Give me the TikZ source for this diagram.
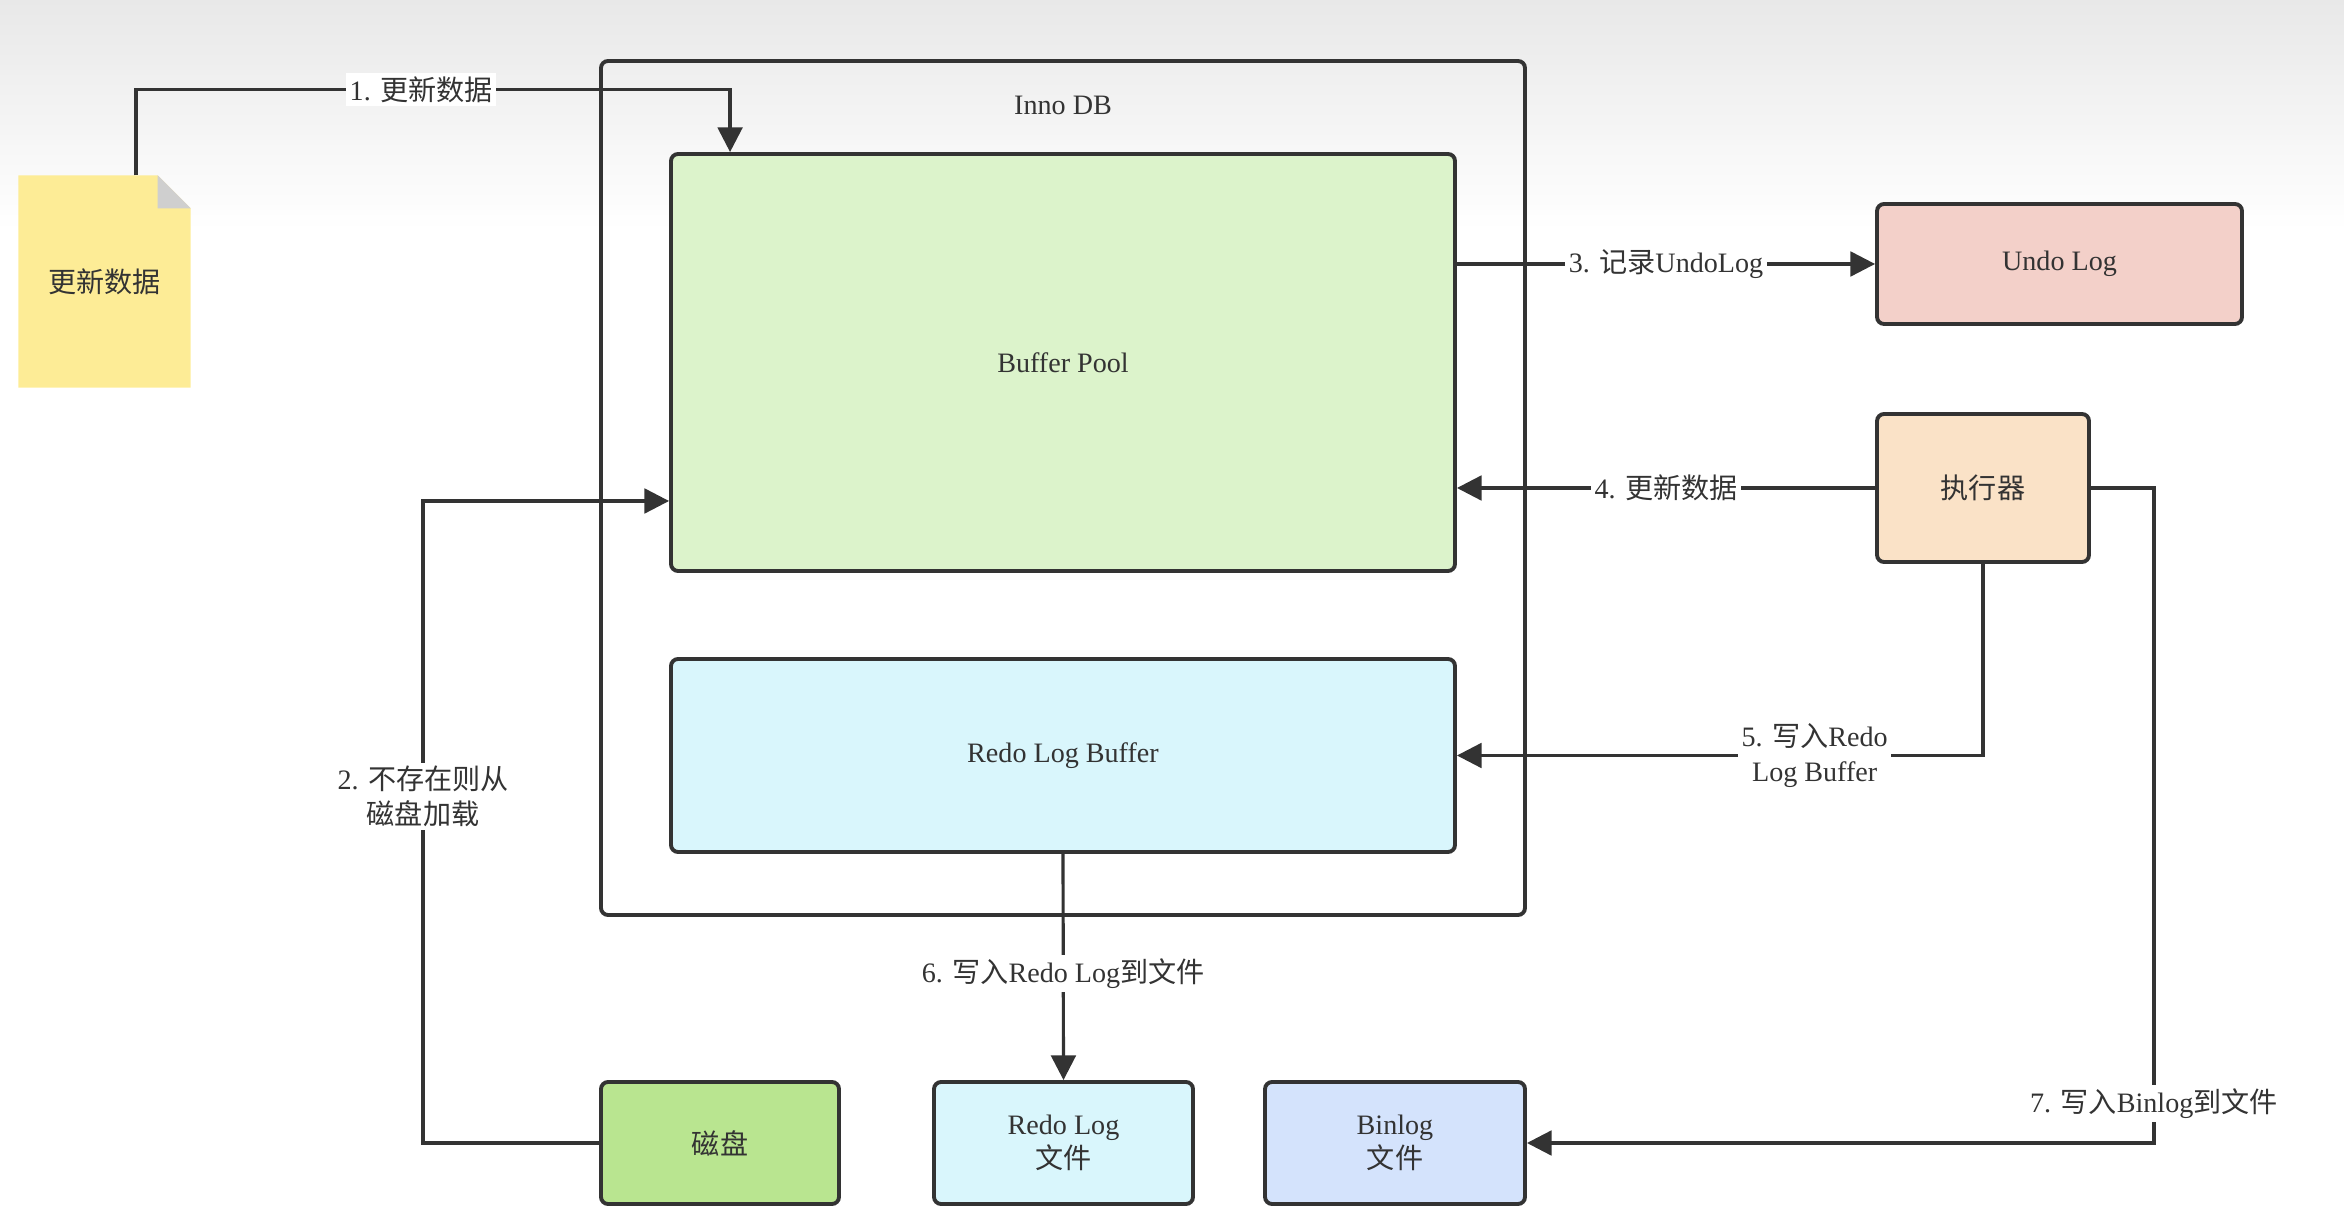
\documentclass[tikz,border=0pt]{standalone}
\usepackage{fontspec}
\setmainfont{Liberation Serif}
\newfontfamily\cjk{Noto Sans CJK SC}
\usetikzlibrary{arrows.meta}
\usetikzlibrary{backgrounds}

\definecolor{linegray}{HTML}{333333}
\definecolor{poolgreen}{HTML}{DCF3CB}
\definecolor{redoblue}{HTML}{D9F6FC}
\definecolor{undored}{HTML}{F3D0C9}
\definecolor{execorange}{HTML}{FAE2C7}
\definecolor{diskgreen}{HTML}{B9E590}
\definecolor{binblue}{HTML}{D4E3FC}
\definecolor{noteyellow}{HTML}{FDEC96}
\definecolor{foldgray}{HTML}{CFCFCF}

\begin{document}
\begin{tikzpicture}[
  box/.style={draw=linegray, line width=1.1pt, rounded corners=2pt, align=center,
              text=linegray, font=\fontsize{8}{9.7}\selectfont},
  conn/.style={draw=linegray, line width=0.9pt, -{Stealth[inset=0pt,length=7pt,width=7pt]}},
  lbl/.style={fill=white, inner sep=1pt, align=center, text=linegray,
              font=\fontsize{8}{9.7}\selectfont}
]
  \useasboundingbox (0,0) rectangle (23.44,-12.25);

  \node[box, minimum width=9.24cm, minimum height=8.54cm] (innodb) at (10.63,-4.88) {};
  \node[lbl, fill=none] (dbname) at ([yshift=-4.6mm]innodb.north) {Inno DB};
  \node[box, fill=poolgreen, minimum width=7.84cm, minimum height=4.17cm] (pool) at (10.63,-3.625) {Buffer Pool};
  \node[box, fill=redoblue, minimum width=7.84cm, minimum height=1.93cm] (redobuf) at (10.63,-7.555) {Redo Log Buffer};

  \node[align=center, text=linegray, font=\fontsize{8}{9.7}\selectfont, inner sep=0,
        minimum width=1.71cm, minimum height=2.11cm] (note) at (1.045,-2.815) {{\cjk 更新数据}};
  \node[box, fill=undored, minimum width=3.65cm, minimum height=1.2cm] (undo) at (20.595,-2.64) {Undo Log};
  \node[box, fill=execorange, minimum width=2.12cm, minimum height=1.48cm] (exec) at (19.83,-4.88) {{\cjk 执行器}};
  \node[box, fill=diskgreen, minimum width=2.38cm, minimum height=1.22cm] (disk) at (7.2,-11.43) {{\cjk 磁盘}};
  \node[box, fill=redoblue, minimum width=2.59cm, minimum height=1.22cm] (redofile) at (10.635,-11.43) {Redo Log\\{\cjk 文件}};
  \node[box, fill=binblue, minimum width=2.6cm, minimum height=1.22cm] (binlog) at (13.95,-11.43) {Binlog\\{\cjk 文件}};

  % background and the folded note
  \begin{pgfonlayer}{background}
    \shade[top color=black!9, bottom color=white] (0,0) rectangle (23.44,-2.3);
    \fill[noteyellow] (note.north west) -- ([xshift=-3.3mm]note.north east)
      -- ([yshift=-3.3mm]note.north east) -- (note.south east) -- (note.south west) -- cycle;
    \fill[foldgray] ([xshift=-3.3mm]note.north east) -- ([yshift=-3.3mm]note.north east)
      -- ([xshift=-3.3mm,yshift=-3.3mm]note.north east) -- cycle;
  \end{pgfonlayer}

  \draw[conn] ([xshift=3.15mm]note.north) -- ++(0,0.855) -| ([xshift=6.1mm]pool.north west)
    node[lbl, pos=0.24] {1. {\cjk 更新数据}};
  \draw[conn] (disk.west) -- ++(-1.76,0) |- ([yshift=-13.85mm]pool.west)
    node[lbl, pos=0.27] {2. {\cjk 不存在则从}\\{\cjk 磁盘加载}};
  \draw[conn] (pool.east |- undo.west) -- (undo.west)
    node[lbl, midway] {3. {\cjk 记录}UndoLog};
  \draw[conn] (exec.west) -- (exec.west -| pool.east)
    node[lbl, midway] {4. {\cjk 更新数据}};
  \draw[conn] (exec.south) |- (redobuf.east)
    node[lbl, pos=0.66] {5. {\cjk 写入}Redo\\Log Buffer};
  \draw[conn] (redobuf.south) -- (redofile.north)
    node[lbl, pos=0.53] {6. {\cjk 写入}Redo Log{\cjk 到文件}};
  \draw[conn] (exec.east) -- ++(0.63,0) |- (binlog.east)
    node[lbl, pos=0.47] {7. {\cjk 写入}Binlog{\cjk 到文件}};
\end{tikzpicture}
\end{document}
